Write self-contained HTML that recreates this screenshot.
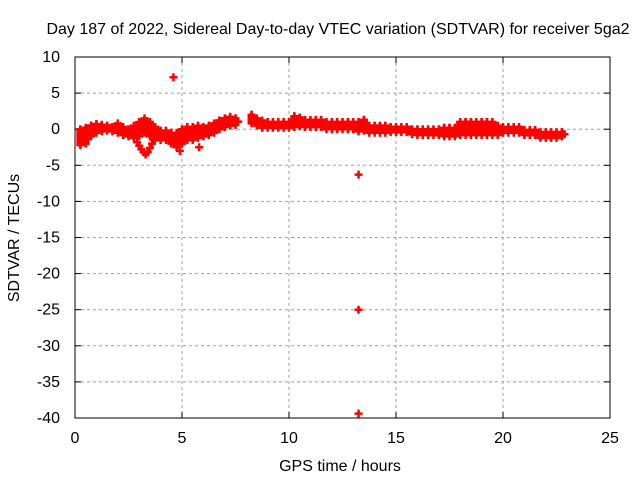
<!DOCTYPE html>
<html><head><meta charset="utf-8"><style>
body{margin:0;background:#fff}
svg{display:block;font-family:"Liberation Sans",sans-serif;font-size:16px}
</style></head><body>
<svg id="c" width="640" height="480">
<text x="338" y="34" text-anchor="middle">Day 187 of 2022, Sidereal Day-to-day VTEC variation (SDTVAR) for receiver 5ga2</text>
<text x="340" y="471" text-anchor="middle">GPS time / hours</text>
<text transform="translate(19,238) rotate(-90)" text-anchor="middle">SDTVAR / TECUs</text>
<g id="grid"></g><g id="ticks"></g><g id="marks"></g>
<rect x="75" y="57" width="535" height="361" fill="none" stroke="#000" stroke-width="1"/>
</svg>
<script>
const xTicks=[0,5,10,15,20,25];
const yTicks=[10,5,0,-5,-10,-15,-20,-25,-30,-35,-40];
const times=[0.25,0.5,0.75,1,1.25,1.5,1.75,2,2.25,2.5,2.75,3,3.25,3.5,3.75,4,4.25,4.5,4.75,5,5.25,5.5,5.75,6,6.25,6.5,6.75,7,7.25,7.5,8.25,8.5,8.75,9,9.25,9.5,9.75,10,10.25,10.5,10.75,11,11.25,11.5,11.75,12,12.25,12.5,12.75,13,13.25,13.5,13.75,14,14.25,14.5,14.75,15,15.25,15.5,15.75,16,16.25,16.5,16.75,17,17.25,17.5,17.75,18,18.25,18.5,18.75,19,19.25,19.5,19.75,20,20.25,20.5,20.75,21,21.25,21.5,21.75,22,22.25,22.5,22.75];
const lows=[-2.2,-2,-1,-0.5,-0.3,-0.2,-0.3,-0.5,-0.8,-1,-1.2,-1,-0.5,-1,-1.2,-1.5,-1.5,-2,-2.5,-2,-1.5,-1.5,-1.2,-1,-0.8,-0.5,0,0.3,0.5,0.6,0.8,0.5,0.2,0.2,0.2,0.2,0.2,0.2,0.3,0.4,0.3,0.3,0.3,0.3,0,0,0,0,0,0,-0.3,-0.2,-0.5,-0.5,-0.5,-0.5,-0.4,-0.4,-0.4,-0.4,-0.7,-0.8,-0.8,-0.8,-0.8,-0.8,-1,-1,-1,-0.8,-0.8,-0.8,-0.8,-0.8,-0.8,-0.8,-0.8,-0.5,-0.5,-0.5,-0.5,-0.8,-0.8,-0.8,-1.2,-1.2,-1.2,-1.2,-1];
const highs=[0,0.2,0.5,0.7,0.6,0.5,0.3,0.8,0.3,0,0.5,1,1.5,1,0.3,-0.2,-0.2,-0.5,-0.5,0,0.3,0.3,0.5,0.3,0.5,0.8,1.2,1.5,1.7,1.5,2,1.5,1.2,1,1,1,1,1,1.8,1.6,1.3,1.3,1.3,1.3,1,1,1,1,1,1,1,1.3,0.5,0.5,0.5,0.5,0.3,0.3,0.3,0.3,0,0,0,0,0,0,0.2,0.2,0.2,1,1,1,1,1,1,1,0.5,0.3,0.3,0.3,0.3,-0.1,-0.1,-0.1,-0.4,-0.4,-0.4,-0.4,-0.4];
const extraT=[2.9,3.0,3.1,3.2,3.3,3.4,3.5,3.6,3.7,4.6,4.9,5.8,13.25,13.25,13.25];
const extraV=[-1.8,-2.3,-2.8,-3.2,-3.5,-3.2,-2.6,-2,-1.5,7.2,-3,-2.5,-6.3,-25,-39.4];
const X=t=>75+t*535/25, Y=v=>57+(10-v)*361/50;
const NS="http://www.w3.org/2000/svg";
const mk=(g,tag,a)=>{const e=document.createElementNS(NS,tag);for(const k in a)e.setAttribute(k,a[k]);g.appendChild(e);return e;};
const grid=document.getElementById('grid'),ticks=document.getElementById('ticks'),marks=document.getElementById('marks');
xTicks.forEach(t=>{
 if(t>0&&t<25){const l=mk(grid,'line',{x1:X(t),x2:X(t),y1:57,y2:418,stroke:'#a0a0a0','stroke-dasharray':'3,3'});
 
 }
 mk(ticks,'line',{x1:X(t),x2:X(t),y1:418,y2:412,stroke:'#000'});mk(ticks,'line',{x1:X(t),x2:X(t),y1:57,y2:63,stroke:'#000'});
 const tx=mk(ticks,'text',{x:X(t),y:443,'text-anchor':'middle'});tx.textContent=t;
 
 
});
yTicks.forEach(v=>{
 if(v<10&&v>-40){const l=mk(grid,'line',{x1:75,x2:610,y1:Y(v),y2:Y(v),stroke:'#a0a0a0','stroke-dasharray':'3,3'});
 
 }
 mk(ticks,'line',{x1:75,x2:81,y1:Y(v),y2:Y(v),stroke:'#000'});mk(ticks,'line',{x1:604,x2:610,y1:Y(v),y2:Y(v),stroke:'#000'});
 const tx=mk(ticks,'text',{x:60,y:Y(v)+5,'text-anchor':'end'});tx.textContent=v;
 
 
});
function plus(t,v){const x=X(t),y=Y(v);
 const p=mk(marks,'path',{d:`M${x-4},${y}H${x+4}M${x},${y-4}V${y+4}`,stroke:'#f00','stroke-width':2.5});
 
 }
times.forEach((t,i)=>{for(let v=lows[i];v<=highs[i]+0.01;v+=0.3)plus(t,v);plus(t,highs[i]);
 plus(t+0.125,(lows[i]+highs[i])/2);});
extraT.forEach((t,i)=>plus(t,extraV[i]));
</script>
</body></html>
